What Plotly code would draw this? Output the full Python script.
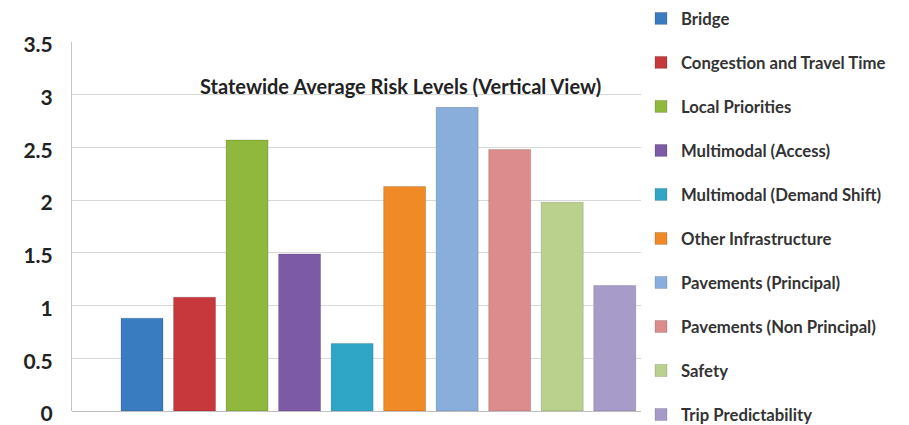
import plotly.graph_objects as go

categories = ["Bridge", "Congestion and Travel Time", "Local Priorities", "Multimodal (Access)",
              "Multimodal (Demand Shift)", "Other Infrastructure", "Pavements (Principal)",
              "Pavements (Non Principal)", "Safety", "Trip Predictability"]
values = [0.88, 1.08, 2.57, 1.49, 0.64, 2.13, 2.88, 2.48, 1.98, 1.19]
colors = ["#3a7cc0", "#c6383c", "#8fb83c", "#7c5aa6", "#2fa6c6", "#f08a26",
          "#8aaedb", "#dc8c8c", "#b9d18c", "#a79cc9"]
y_ticks = [0, 0.5, 1, 1.5, 2, 2.5, 3, 3.5]
y_ticklabels = ["0", "0.5", "1", "1.5", "2", "2.5", "3", "3.5"]
title_text = "Statewide Average Risk Levels (Vertical View)"

fig = go.Figure()
for i, (c, v, col) in enumerate(zip(categories, values, colors)):
    fig.add_trace(go.Bar(
        x=[i], y=[v], name=c, width=0.8,
        marker=dict(color=col, line=dict(color="rgba(0,0,0,0.15)", width=1)),
        legendgroup=f"g{i}",
    ))

fig.update_layout(
    width=909, height=425,
    margin=dict(l=72, r=268, t=42, b=14, autoexpand=False),
    paper_bgcolor="white", plot_bgcolor="white",
    font=dict(family="Lato, sans-serif", color="#333333"),
    barmode="overlay",
    showlegend=True,
    legend=dict(
        x=1.0, xanchor="left", y=1.111, yanchor="top",
        font=dict(size=16.7, color="#333333", family="Lato, sans-serif", weight="bold"),
        tracegroupgap=19.3, itemwidth=30, bgcolor="rgba(0,0,0,0)",
        maxheight=1000,
    ),
    xaxis=dict(range=[-1.333, 9.5], showticklabels=False, showgrid=False,
               zeroline=False, showline=False, ticks=""),
    yaxis=dict(range=[0, 3.5], tickvals=y_ticks, ticktext=y_ticklabels,
               showgrid=True, gridcolor="#d9d9d9", gridwidth=1,
               zeroline=True, zerolinecolor="#bfbfbf", zerolinewidth=1,
               showline=True, linecolor="#c4c4c4", linewidth=1,
               ticks="", ticklabelstandoff=14, ticklabelshift=3,
               ticklabeloverflow="allow",
               tickfont=dict(size=21, color="#222222", family="Lato, sans-serif", weight="bold")),
    annotations=[dict(
        text=title_text, xref="paper", yref="paper", x=0.578, y=0.882,
        xanchor="center", yanchor="middle", showarrow=False,
        font=dict(size=20, color="#222222", family="Lato, sans-serif", weight="bold"),
    )],
)

fig.write_html("out.html")
